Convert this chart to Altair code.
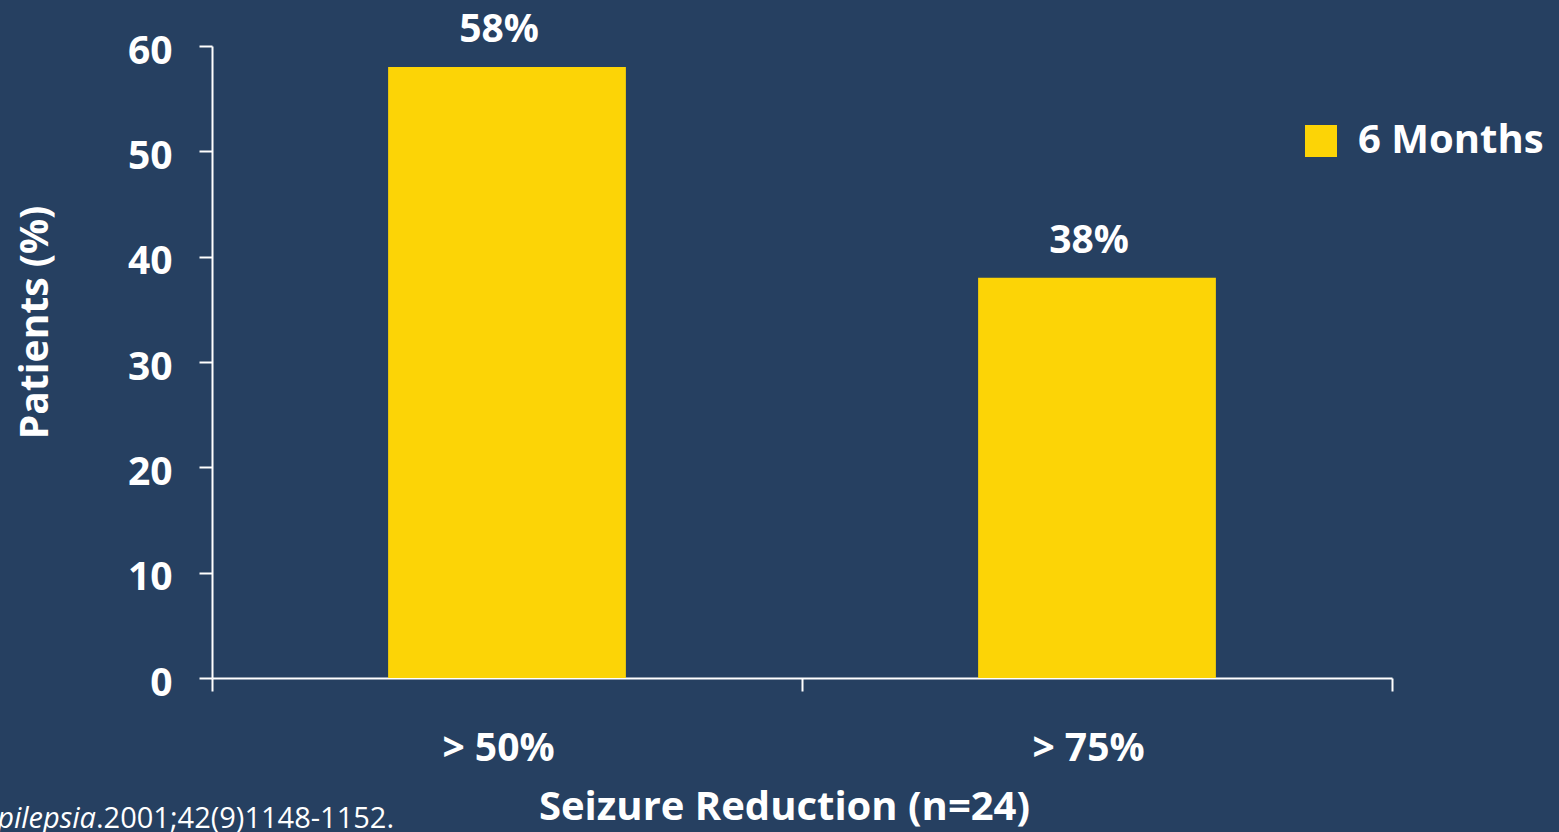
import altair as alt
import pandas as pd

categories = ["> 50%", "> 75%"]
values = [58, 38]
labels = ["58%", "38%"]
series = ["6 Months", "6 Months"]

df = pd.DataFrame({"cat": categories, "val": values, "lab": labels, "series": series})

BG = "#264061"
YEL = "#FCD406"
FONT = "Open Sans"

x = alt.X("cat:N", sort=categories, title="Seizure Reduction (n=24)",
          scale=alt.Scale(paddingInner=0, paddingOuter=0),
          axis=alt.Axis(labelAngle=0, tickBand="extent", tickSize=13, tickWidth=2,
                        domainWidth=2, domainColor="white", tickColor="white",
                        labelColor="white", labelFont=FONT, labelFontSize=39, labelFontWeight="bold",
                        labelPadding=38, labelOffset=-9, titleColor="white", titleFont=FONT,
                        titleFontSize=40, titleFontWeight="bold", titleX=572, titleY=129,
                        titleBaseline="middle", titleAlign="center"))
y = alt.Y("val:Q", title="Patients (%)",
          scale=alt.Scale(domain=[0, 60], nice=False),
          axis=alt.Axis(values=[0, 10, 20, 30, 40, 50, 60], grid=False, tickSize=13, tickWidth=2,
                        domainWidth=2, domainColor="white", tickColor="white",
                        labelColor="white", labelFont=FONT, labelFontSize=39, labelFontWeight="bold",
                        labelPadding=27, labelOffset=5, titleColor="white", titleFont=FONT,
                        titleFontSize=39, titleFontWeight="bold", titleX=-177, titleY=276,
                        titleBaseline="middle", titleAlign="center", titleAngle=270))

bars = alt.Chart(df).mark_bar(width={"band": 0.403}, color=YEL).encode(
    x=x, y=y,
    color=alt.Color("series:N", scale=alt.Scale(range=[YEL]),
                    legend=alt.Legend(title=None, orient="none", legendX=1089, legendY=75,
                                      symbolType="square", symbolSize=1024, symbolStrokeWidth=0,
                                      symbolOpacity=1, labelColor="white", labelFont=FONT,
                                      labelFontSize=40, labelFontWeight="bold", labelOffset=17,
                                      labelLimit=400))
)

text = alt.Chart(df).mark_text(dy=-25, dx=-8, baseline="alphabetic", color="white", font=FONT,
                               fontSize=39, fontWeight="bold").encode(
    x=alt.X("cat:N", sort=categories), y="val:Q", text="lab:N")

foot1 = alt.Chart(pd.DataFrame({"t": ["Epilepsia"]})).mark_text(
    align="right", baseline="alphabetic", color="white", font=FONT, fontSize=29,
    fontStyle="italic").encode(x=alt.value(-116), y=alt.value(782), text="t:N")
foot2 = alt.Chart(pd.DataFrame({"t": [".2001;42(9)1148-1152."]})).mark_text(
    align="left", baseline="alphabetic", color="white", font=FONT, fontSize=29).encode(
    x=alt.value(-116), y=alt.value(782), text="t:N")

chart = alt.layer(bars, text, foot1, foot2).properties(
    width=1180, height=632,
    autosize=alt.AutoSizeParams(type="none"),
    padding={"left": 212, "top": 46, "right": 167, "bottom": 154},
    background=BG,
).configure_view(stroke=None)

chart.save("out.html", embed_options={"renderer": "svg", "actions": False})
